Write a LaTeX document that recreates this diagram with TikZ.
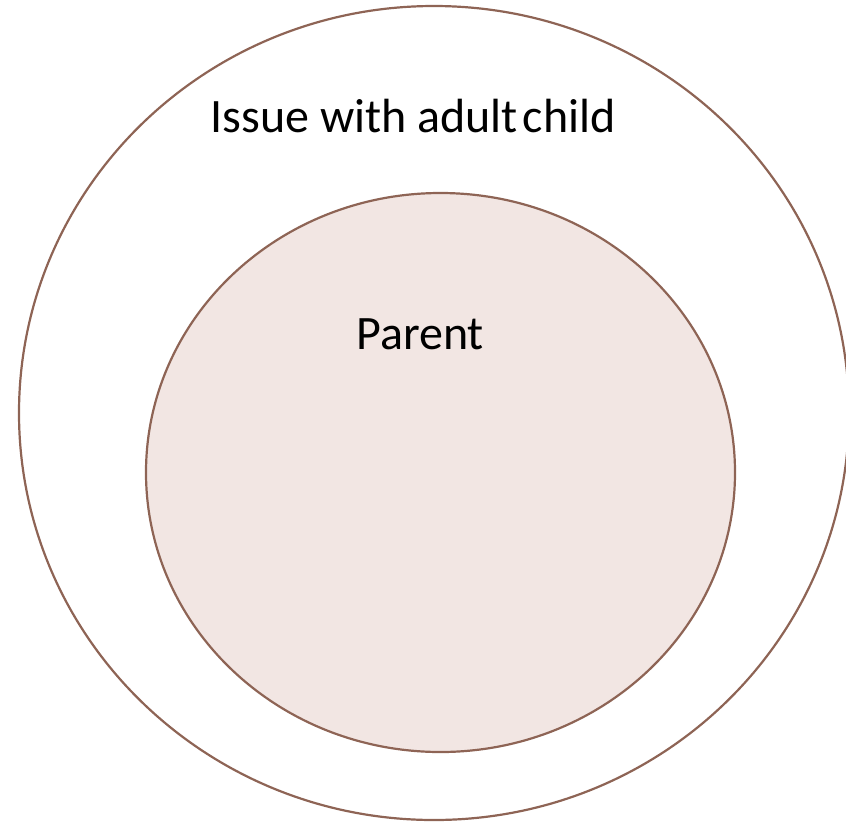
\documentclass[tikz,border=0pt]{standalone}
\usepackage{fontspec}
\setmainfont{Carlito}
\definecolor{ringline}{HTML}{8E6455}
\definecolor{innerfill}{HTML}{F2E6E3}
\begin{document}
\begin{tikzpicture}[x=1pt,y=-1pt,
  ring/.style={draw=ringline,line width=2.2pt},
  label/.style={font=\fontsize{48}{58}\selectfont,anchor=base,inner sep=0pt}]
\useasboundingbox (0,0) rectangle (846,823);
% outer issue circle, extends slightly past the right edge
\begin{scope}
\clip (0,0) rectangle (846,823);
\draw[ring] (434,413) ellipse [x radius=415, y radius=407];
\end{scope}
% inner parent circle
\filldraw[ring,fill=innerfill] (440.5,472.5) ellipse [x radius=294.5, y radius=279.5];
\node[label] (issue) at (413,132) {Issue with adult\hspace{0.1em}child};
\node[label] (parent) at (420,349) {Parent};
\end{tikzpicture}
\end{document}
